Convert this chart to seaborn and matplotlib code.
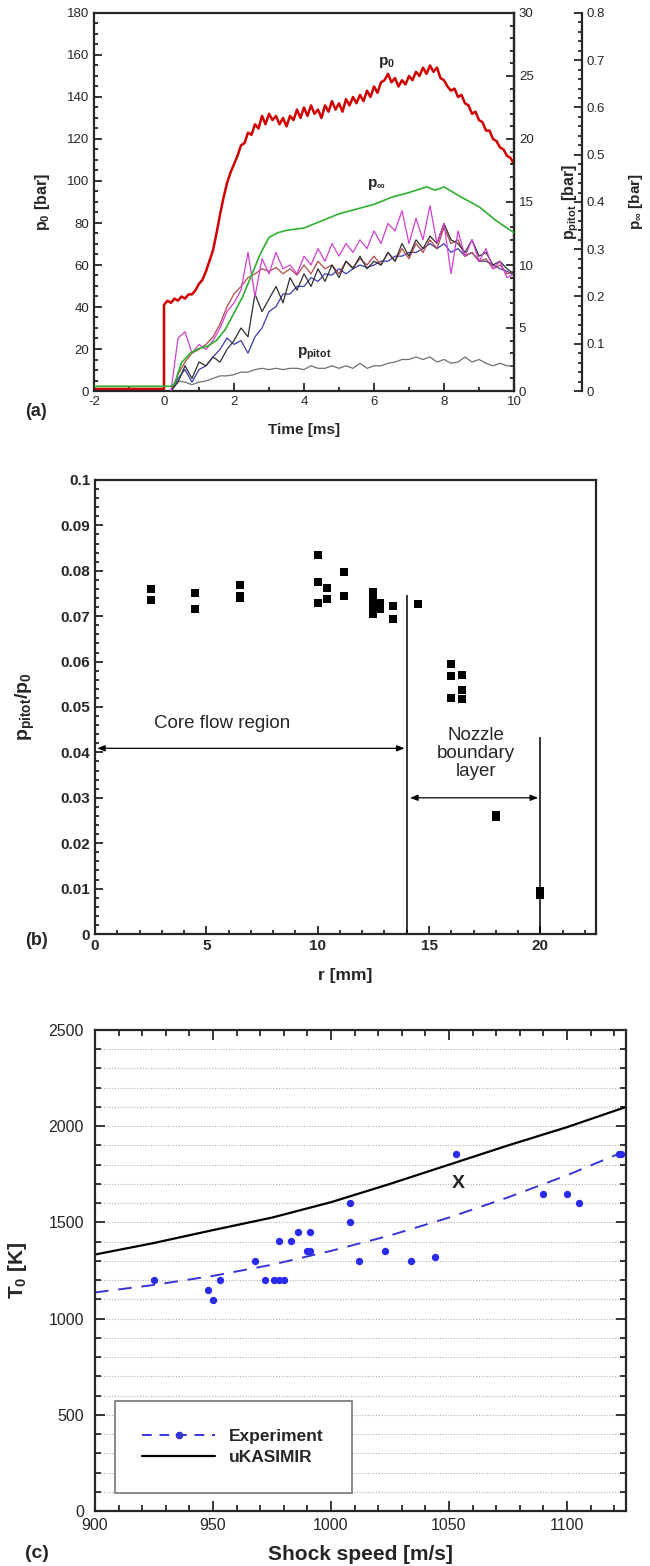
import numpy as np
import pandas as pd
import matplotlib
matplotlib.use("Agg")
import matplotlib.pyplot as plt
from matplotlib.ticker import MultipleLocator
from matplotlib.lines import Line2D
import seaborn as sns

# ---------------- data: panel (a) ----------------
p0_time = [-2.0, 0.0] + [round(0.1 * i, 1) for i in range(0, 101)]
p0_values = [1, 1,
             41, 43, 42, 44, 43, 45, 44, 46, 46, 48,
             51, 53, 57, 62, 67, 75, 84, 92, 99, 104,
             108, 112, 117, 118, 123, 122, 127, 125, 131, 127,
             132, 129, 131, 127, 130, 126, 131, 129, 134, 130,
             135, 131, 136, 132, 134, 130, 136, 133, 138, 134,
             137, 133, 139, 136, 140, 137, 141, 138, 143, 140,
             145, 142, 147, 148, 151, 147, 149, 145, 148, 146,
             150, 148, 152, 150, 154, 151, 155, 152, 154, 149,
             148, 145, 143, 144, 140, 141, 137, 136, 132, 133,
             129, 128, 124, 124, 120, 119, 116, 115, 112, 111,
             108]

pinf_time = [-2.0, 0.2, 0.3, 0.5, 0.75, 1.0, 1.25, 1.5, 1.75, 2.0, 2.25, 2.5,
             2.75, 3.0, 3.25, 3.5, 4.0, 4.5, 5.0, 5.5, 6.0, 6.5, 7.0, 7.5,
             7.75, 8.0, 8.5, 9.0, 9.5, 10.0]
pinf_values = [0.010, 0.010, 0.015, 0.060, 0.080, 0.090, 0.095, 0.107, 0.130,
               0.165, 0.200, 0.245, 0.290, 0.325, 0.335, 0.340, 0.345, 0.360,
               0.375, 0.385, 0.395, 0.410, 0.420, 0.432, 0.425, 0.432, 0.410,
               0.390, 0.360, 0.335]

pitot_time = [round(0.2 * i, 1) for i in range(1, 51)]
pitot_magenta = [0, 4.2, 4.7, 3.0, 3.7, 3.3, 4.0, 5.0, 6.3, 7.0, 8.0, 11.0, 7.5,
                 10.5, 9.3, 11.0, 9.7, 10.0, 9.3, 10.7, 10.0, 11.3, 10.3, 11.7,
                 10.7, 11.7, 11.0, 12.0, 11.3, 12.7, 11.7, 13.3, 12.7, 14.3,
                 11.7, 13.7, 12.0, 14.7, 11.7, 13.3, 9.3, 12.7, 10.7, 12.0,
                 10.3, 11.3, 9.7, 10.3, 9.0, 9.3]
pitot_brown = [0, 1.3, 2.3, 3.0, 3.3, 3.7, 4.3, 5.3, 6.7, 7.7, 8.3, 9.0, 9.3,
               9.7, 9.5, 9.8, 9.3, 9.7, 9.2, 10.0, 9.3, 10.3, 9.7, 10.0, 9.3,
               10.3, 9.8, 10.5, 10.0, 10.7, 10.0, 11.0, 10.3, 11.3, 10.5, 11.7,
               11.0, 12.0, 11.3, 13.0, 11.7, 12.0, 10.7, 11.0, 10.3, 10.5, 9.7,
               10.0, 9.3, 9.5]
pitot_black = [0, 0.7, 2.0, 1.0, 2.3, 2.0, 2.7, 2.3, 3.3, 4.0, 5.0, 4.3, 7.7,
               6.3, 7.3, 8.3, 7.0, 9.0, 8.0, 9.3, 8.3, 9.7, 8.7, 10.0, 9.0,
               10.3, 9.7, 10.7, 9.7, 10.3, 10.0, 11.0, 10.3, 11.7, 10.7, 12.0,
               11.3, 12.3, 11.7, 13.3, 12.0, 11.7, 11.0, 12.0, 10.7, 11.0, 10.0,
               10.3, 9.7, 9.3]
pitot_blue = [0, 1.0, 1.7, 0.7, 1.7, 2.0, 2.7, 3.3, 4.2, 3.7, 4.0, 3.0, 4.3,
              5.0, 6.3, 6.7, 7.7, 7.7, 8.3, 8.3, 9.0, 8.7, 9.3, 9.2, 9.7, 9.3,
              9.7, 10.0, 9.8, 10.0, 10.3, 10.3, 10.7, 10.7, 11.0, 11.0, 11.3,
              11.7, 11.3, 11.7, 11.0, 11.3, 10.7, 11.0, 10.3, 10.3, 10.0, 9.7,
              9.5, 9.2]
pitot_gray = [0, 0.8, 0.7, 0.5, 0.7, 0.8, 1.0, 1.2, 1.2, 1.3, 1.5, 1.5, 1.7,
              1.8, 1.7, 1.8, 1.7, 1.8, 1.8, 1.7, 2.0, 1.8, 1.8, 2.0, 1.8, 2.0,
              1.8, 2.2, 1.8, 2.0, 2.0, 2.2, 2.3, 2.5, 2.5, 2.7, 2.5, 2.7, 2.3,
              2.5, 2.2, 2.3, 2.7, 2.3, 2.5, 2.2, 2.0, 2.2, 2.0, 2.0]

# ---------------- data: panel (b) ----------------
r_mm = [2.5, 2.5, 4.5, 4.5, 6.5, 6.5, 6.5,
        10.0, 10.0, 10.0, 10.4, 10.4, 11.2, 11.2,
        12.5, 12.5, 12.5, 12.5, 12.5, 12.65, 12.8, 12.8, 13.4, 13.4,
        14.5, 16.0, 16.0, 16.0, 16.5, 16.5, 16.5, 18.0, 18.0, 20.0, 20.0]
pitot_ratio = [0.0759, 0.0735, 0.0750, 0.0716, 0.0768, 0.0745, 0.0740,
               0.0834, 0.0776, 0.0729, 0.0762, 0.0737, 0.0797, 0.0745,
               0.0753, 0.0744, 0.0729, 0.0714, 0.0704, 0.0722, 0.0728, 0.0716,
               0.0722, 0.0693,
               0.0727, 0.0595, 0.0568, 0.0520, 0.0570, 0.0537, 0.0518,
               0.0262, 0.0258, 0.0094, 0.0086]
boundary_r = [14.0, 20.0]
boundary_top = [0.0747, 0.0433]

# ---------------- data: panel (c) ----------------
shock_speed = [925, 948, 950, 953, 968, 972, 976, 978, 978, 980, 983, 986,
               990, 991, 991, 1008, 1008, 1012, 1023, 1034, 1044, 1053,
               1090, 1100, 1105, 1122, 1123]
T0_exp = [1200, 1150, 1097, 1200, 1298, 1200, 1200, 1401, 1200, 1200, 1401,
          1452, 1352, 1352, 1452, 1602, 1500, 1298, 1352, 1298, 1321, 1853,
          1650, 1650, 1600, 1853, 1853]
fit_speed = [900, 925, 950, 975, 1000, 1025, 1050, 1075, 1100, 1122]
fit_T0 = [1136, 1175, 1222, 1280, 1352, 1432, 1525, 1630, 1745, 1857]
kas_speed = [900, 925, 950, 975, 1000, 1025, 1050, 1075, 1100, 1125]
kas_T0 = [1333, 1393, 1460, 1525, 1605, 1700, 1800, 1900, 1995, 2100]

# ---------------- style ----------------
sns.set_style("ticks")
plt.rcParams["font.family"] = ["Liberation Sans", "DejaVu Sans"]
plt.rcParams["mathtext.fontset"] = "custom"
plt.rcParams["mathtext.rm"] = "Liberation Sans"
plt.rcParams["mathtext.it"] = "Liberation Sans"
plt.rcParams["mathtext.bf"] = "Liberation Sans:bold"
plt.rcParams["axes.linewidth"] = 1.6
plt.rcParams["axes.unicode_minus"] = False

W, H = 650, 1566
fig = plt.figure(figsize=(W / 100, H / 100), dpi=100)


def rect(l, r, t, b):
    return [l / W, 1 - b / H, (r - l) / W, (b - t) / H]


def style_ticks(ax, **kw):
    ax.tick_params(which="both", direction="in", width=1.3, **kw)
    ax.tick_params(which="major", length=6)
    ax.tick_params(which="minor", length=3)


# ================= panel (a) =================
ax = fig.add_axes(rect(94, 514, 13, 391))
sns.lineplot(x=p0_time, y=p0_values, ax=ax, color="#d00000", lw=1.8,
             estimator=None, sort=False)
ax.set_xlim(-2, 10)
ax.set_ylim(0, 180)
ax.xaxis.set_major_locator(MultipleLocator(2))
ax.xaxis.set_minor_locator(MultipleLocator(1))
ax.yaxis.set_major_locator(MultipleLocator(20))
ax.yaxis.set_minor_locator(MultipleLocator(5))
style_ticks(ax, labelsize=9.5, top=False, right=False)
ax.set_xlabel("Time [ms]", fontsize=11, fontweight="bold")
ax.xaxis.set_label_coords(0.5, -0.085)
ax.set_ylabel(r"$\mathbf{p_0}$ [bar]", fontsize=11.5, fontweight="bold")
ax.yaxis.set_label_coords(-0.1, 0.5)

axp = ax.twinx()
for vals, col in [(pitot_gray, "#707070"), (pitot_blue, "#3a3ab8"),
                  (pitot_brown, "#b34a4a"), (pitot_black, "#303030"),
                  (pitot_magenta, "#d040d0")]:
    sns.lineplot(x=pitot_time, y=vals, ax=axp, color=col, lw=0.9,
                 estimator=None, sort=False)
axp.set_ylim(0, 30)
axp.yaxis.set_major_locator(MultipleLocator(5))
axp.yaxis.set_minor_locator(MultipleLocator(1))
style_ticks(axp, labelsize=9.5)
axp.set_ylabel(r"p$_{\mathbf{pitot}}$ [bar]", fontsize=11.5,
               fontweight="bold")
axp.yaxis.set_label_coords(1.11, 0.5)
for s in ["top", "left", "bottom"]:
    axp.spines[s].set_visible(False)

axi = ax.twinx()
sns.lineplot(x=pinf_time, y=pinf_values, ax=axi, color="#30b030", lw=1.2,
             estimator=None, sort=False)
axi.set_ylim(0, 0.8)
axi.spines["right"].set_position(("axes", (582 - 94) / 420))
for s in ["top", "left", "bottom"]:
    axi.spines[s].set_visible(False)
axi.yaxis.set_major_locator(MultipleLocator(0.1))
axi.yaxis.set_minor_locator(MultipleLocator(0.02))
axi.yaxis.set_major_formatter(matplotlib.ticker.FuncFormatter(
    lambda v, p: "0" if abs(v) < 1e-9 else f"{v:.1f}"))
style_ticks(axi, labelsize=9.5)
axi.set_ylabel(r"p$_{\mathbf{\infty}}$ [bar]", fontsize=11,
               fontweight="bold")
axi.yaxis.set_label_coords(1.27, 0.5)

ax.text(6.1, 155, r"$\mathbf{p_0}$", fontsize=11)
ax.text(5.8, 97, r"$\mathbf{p_\infty}$", fontsize=11)
ax.text(3.8, 17, r"$\mathbf{p_{pitot}}$", fontsize=11)
fig.text(25 / W, 1 - 416 / H, "(a)", fontsize=13, fontweight="bold")

# ================= panel (b) =================
bx = fig.add_axes(rect(95, 596, 480, 934))
sns.scatterplot(x=r_mm, y=pitot_ratio, ax=bx, marker="s", s=32,
                color="black", edgecolor="black", linewidth=0)
bx.vlines(boundary_r, [0, 0], boundary_top, color="black", lw=1.1)
bx.annotate("", xy=(0.1, 0.0409), xytext=(13.9, 0.0409),
            arrowprops=dict(arrowstyle="<|-|>,head_length=0.45,head_width=0.18",
                            color="black", lw=0.9, shrinkA=0, shrinkB=0))
bx.annotate("", xy=(14.15, 0.030), xytext=(19.9, 0.030),
            arrowprops=dict(arrowstyle="<|-|>,head_length=0.45,head_width=0.18",
                            color="black", lw=0.9, shrinkA=0, shrinkB=0))
bx.text(5.7, 0.0464, "Core flow region", fontsize=13.5, ha="center",
        va="center")
bx.text(17.1, 0.0398, "Nozzle\nboundary\nlayer", fontsize=13.5,
        ha="center", va="center", linespacing=1.1)
bx.set_xlim(0, 22.5)
bx.set_ylim(0, 0.1)
bx.xaxis.set_major_locator(MultipleLocator(5))
bx.xaxis.set_minor_locator(MultipleLocator(1))
bx.yaxis.set_major_locator(MultipleLocator(0.01))
bx.yaxis.set_minor_locator(MultipleLocator(0.002))
bx.yaxis.set_major_formatter(matplotlib.ticker.FuncFormatter(
    lambda v, p: "0" if abs(v) < 1e-9 else ("0.1" if abs(v - 0.1) < 1e-9
                                             else f"{v:.2f}")))
style_ticks(bx, labelsize=11, top=False, right=False)
for lab in bx.get_xticklabels() + bx.get_yticklabels():
    lab.set_fontweight("bold")
bx.set_xlabel("r [mm]", fontsize=12.5, fontweight="bold")
bx.xaxis.set_label_coords(0.5, -0.075)
bx.set_ylabel(r"$\mathbf{p_{pitot}/p_0}$", fontsize=14)
bx.yaxis.set_label_coords(-0.115, 0.5)
fig.text(25 / W, 1 - 945 / H, "(b)", fontsize=13, fontweight="bold")

# ================= panel (c) =================
cx = fig.add_axes(rect(95, 626, 1030, 1511))
cx.set_xlim(900, 1125)
cx.set_ylim(0, 2500)
cx.yaxis.set_major_locator(MultipleLocator(500))
cx.yaxis.set_minor_locator(MultipleLocator(100))
cx.xaxis.set_major_locator(MultipleLocator(50))
cx.xaxis.set_minor_locator(MultipleLocator(10))
cx.yaxis.grid(True, which="both", linestyle=(0, (1, 1.5)), color="#b0b0b0",
              lw=0.8)
cx.set_axisbelow(True)
sns.lineplot(x=kas_speed, y=kas_T0, ax=cx, color="black", lw=1.6,
             estimator=None)
sns.lineplot(x=fit_speed, y=fit_T0, ax=cx, color="#3535d8", lw=1.4,
             estimator=None, dashes=False, linestyle=(0, (7, 5)))
sns.scatterplot(x=shock_speed, y=T0_exp, ax=cx, color="#2a2ae8", s=28,
                edgecolor="#2a2ae8", linewidth=0, zorder=3)
cx.text(1054, 1700, "X", fontsize=14, fontweight="bold", ha="center",
        va="center")
style_ticks(cx, labelsize=11.5, top=True, right=True)
cx.tick_params(which="major", length=7)
cx.tick_params(which="minor", length=4)
cx.tick_params(axis="y", pad=8)
cx.tick_params(axis="x", pad=5)
cx.set_xlabel("Shock speed [m/s]", fontsize=15, fontweight="bold")
cx.xaxis.set_label_coords(0.5, -0.07)
cx.set_ylabel(r"$\mathbf{T_0}$ [K]", fontsize=15, fontweight="bold")
cx.yaxis.set_label_coords(-0.125, 0.5)
handles = [Line2D([], [], color="#3535d8", lw=1.4, linestyle=(0, (5, 4)),
                  marker="o", markersize=4.5),
           Line2D([], [], color="black", lw=1.6)]
leg = cx.legend(handles, ["Experiment", "uKASIMIR"], loc="lower left",
                bbox_to_anchor=(0.037, 0.037), frameon=True, fancybox=False,
                edgecolor="#808080", framealpha=1, borderpad=1.6,
                handlelength=4.2, labelspacing=0.35, numpoints=1,
                prop={"weight": "bold", "size": 12.5}, borderaxespad=0)
leg.get_frame().set_linewidth(1.3)
fig.text(25 / W, 1 - 1558 / H, "(c)", fontsize=14, fontweight="bold")

fig.savefig("out.png", dpi=100)
